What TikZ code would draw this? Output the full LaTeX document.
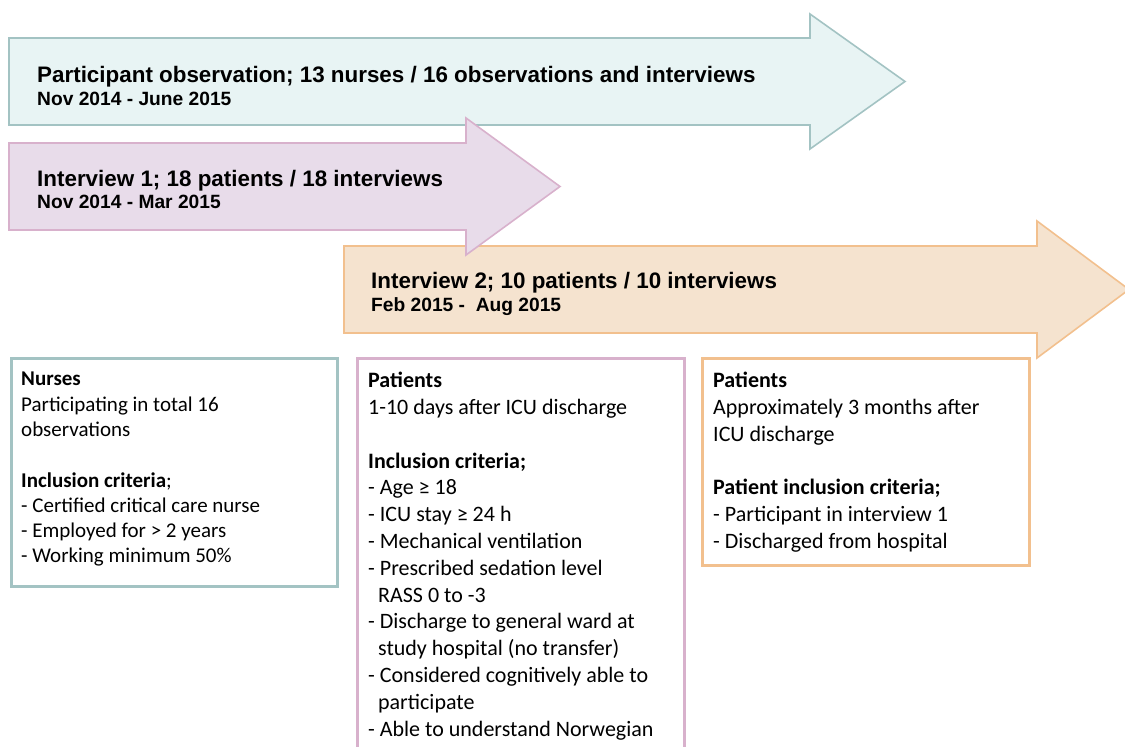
\documentclass[tikz,border=0pt]{standalone}
\usepackage{fontspec}
\setmainfont{Carlito}
\newfontfamily\headfont{Liberation Sans}
\usetikzlibrary{positioning}
\definecolor{obsfill}{HTML}{E8F4F4}
\definecolor{obsline}{HTML}{A3C3C3}
\definecolor{intafill}{HTML}{E8DCEA}
\definecolor{intaline}{HTML}{D8B1CC}
\definecolor{intbfill}{HTML}{F5E3CF}
\definecolor{intbline}{HTML}{F2C08E}
\tikzset{
	phase/.style={line width=1.6pt, line join=miter},
	ptitle/.style={font=\headfont\bfseries\fontsize{22.4}{26}\selectfont, inner sep=0pt, anchor=base west},
	pdate/.style={font=\headfont\bfseries\fontsize{19.2}{22}\selectfont, inner sep=0pt, anchor=base west},
	critbox/.style={draw=#1, line width=3pt, fill=white, anchor=north west, inner sep=0pt},
	crittext/.style={font=\fontsize{22}{26.8}\selectfont, align=left, inner sep=0pt, anchor=north west}
}

\begin{document}
\begin{tikzpicture}[x=1pt, y=-1pt]
	\useasboundingbox (0,0) rectangle (1125,747);

	% time lines
	\draw[phase, draw=obsline, fill=obsfill] (9,38) -- (810,38) -- (810,14) -- (905,81.5)
		-- (810,149) -- (810,125) -- (9,125) -- cycle;
	\draw[phase, draw=intbline, fill=intbfill] (344,246) -- (1037,246) -- (1037,221) -- (1129,289.5)
		-- (1037,358) -- (1037,333) -- (344,333) -- cycle;
	\draw[phase, draw=intaline, fill=intafill] (9,143) -- (466,143) -- (466,118) -- (560,186.5)
		-- (466,255) -- (466,230) -- (9,230) -- cycle;

	\node[ptitle] (obstitle) at (37,82) {Participant observation; 13 nurses / 16 observations and interviews};
	\node[pdate] (obsdate) at (37,105) {Nov 2014 - June 2015};
	\node[ptitle] (intatitle) at (37,186) {Interview 1; 18 patients / 18 interviews};
	\node[pdate] (intadate) at (37,208) {Nov 2014 - Mar 2015};
	\node[ptitle] (intbtitle) at (371,288) {Interview 2; 10 patients / 10 interviews};
	\node[pdate] (intbdate) at (371,311) {Feb 2015 -\ \ Aug 2015};

	% criteria boxes
	\node[critbox=obsline, minimum width=326pt, minimum height=228pt] (nursebox) at (10,357) {};
	\node[critbox=intaline, minimum width=327pt, minimum height=420pt] (intabox) at (356,357) {};
	\node[critbox=intbline, minimum width=327pt, minimum height=207pt] (intbbox) at (701,357) {};

	\node[crittext, font=\fontsize{21}{25.3}\selectfont] (nursetext) at ([shift={(11,15)}]nursebox.north west)
		{\textbf{Nurses}\\Participating in total 16\\observations\\[25.3pt]
		\textbf{Inclusion criteria};\\- Certified critical care nurse\\- Employed for > 2 years\\- Working minimum 50\%};
	\node[crittext] (intatext) at ([shift={(12,15)}]intabox.north west)
		{\textbf{Patients}\\1-10 days after ICU discharge\\[26.8pt]
		\textbf{Inclusion criteria;}\\- Age ≥ 18\\- ICU stay ≥ 24 h\\- Mechanical ventilation\\
		- Prescribed sedation level\\\ \ RASS 0 to -3\\- Discharge to general ward at\\\ \ study hospital (no transfer)\\
		- Considered cognitively able to\\\ \ participate\\- Able to understand Norwegian};
	\node[crittext] (intbtext) at ([shift={(12,15)}]intbbox.north west)
		{\textbf{Patients}\\Approximately 3 months after\\ICU discharge\\[26.8pt]
		\textbf{Patient inclusion criteria;}\\- Participant in interview 1\\- Discharged from hospital};
\end{tikzpicture}
\end{document}
